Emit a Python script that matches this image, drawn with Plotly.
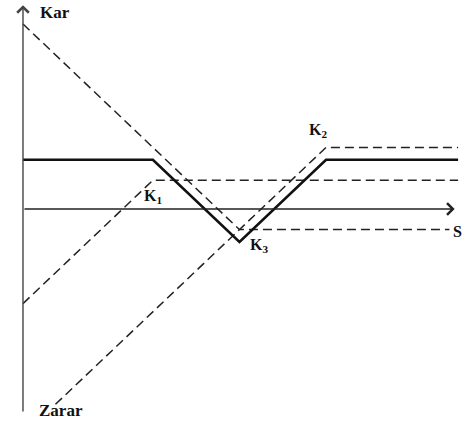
import plotly.graph_objects as go

# Strike prices (stock price S at the kinks)
K1, K3, K2 = 30, 50, 70

# Solid combined position (profit vs S)
solid_S = [0, K1, K3, K2, 100.5]
solid_P = [12, 12, -8, 12, 12]

# Dashed component positions
put_S = [0, K3, 98.5]
put_P = [45, -5, -5]

shortput1_S = [0, K1, 100.5]
shortput1_P = [-23, 7, 7]

shortput2_S = [7.5, K2, 100.5]
shortput2_P = [-47.5, 15, 15]

labels = ["Kar", "Zarar", "K<sub>1</sub>", "K<sub>2</sub>", "K<sub>3</sub>", "S<sub>T</sub>"]
label_S = [3.4, 3.2, 27.6, 65.6, 52.0, 98.8]
label_P = [47.9, -48.9, 3.0, 19.2, -8.9, -5.6]
label_size = [17, 17, 16, 16, 16, 16]

fig = go.Figure()

dash_style = dict(color="#222", width=1.5, dash="9px,5px")
for xs, ys in [(put_S, put_P), (shortput1_S, shortput1_P), (shortput2_S, shortput2_P)]:
    fig.add_trace(go.Scatter(x=xs, y=ys, mode="lines", line=dash_style, hoverinfo="skip"))

fig.add_trace(go.Scatter(x=solid_S, y=solid_P, mode="lines",
                         line=dict(color="#111", width=2.6), hoverinfo="skip"))

# Axes with arrows
fig.add_annotation(x=99.7, y=0, ax=0, ay=0, xref="x", yref="y", axref="x", ayref="y",
                   showarrow=True, arrowhead=4, arrowsize=1.6, arrowwidth=1.4,
                   arrowcolor="#222", text="")
fig.add_annotation(x=0, y=49.6, ax=0, ay=-49.6, xref="x", yref="y", axref="x", ayref="y",
                   showarrow=True, arrowhead=4, arrowsize=1.6, arrowwidth=1.4,
                   arrowcolor="#444", text="")

for t, xs, ys, sz in zip(labels, label_S, label_P, label_size):
    fig.add_annotation(x=xs, y=ys, text=f"<b>{t}</b>", showarrow=False,
                       xanchor="left", yanchor="middle",
                       font=dict(family="Liberation Serif", size=sz, color="#111"))

fig.update_layout(
    width=462, height=422,
    margin=dict(l=0, r=0, t=0, b=0),
    paper_bgcolor="white", plot_bgcolor="white",
    showlegend=False,
    xaxis=dict(range=[-5.31, 101.4], visible=False, fixedrange=True),
    yaxis=dict(range=[-51.8, 50.85], visible=False, fixedrange=True),
)

fig.write_html("out.html", config={"displayModeBar": False},
               post_script="document.body.style.margin='0';")
